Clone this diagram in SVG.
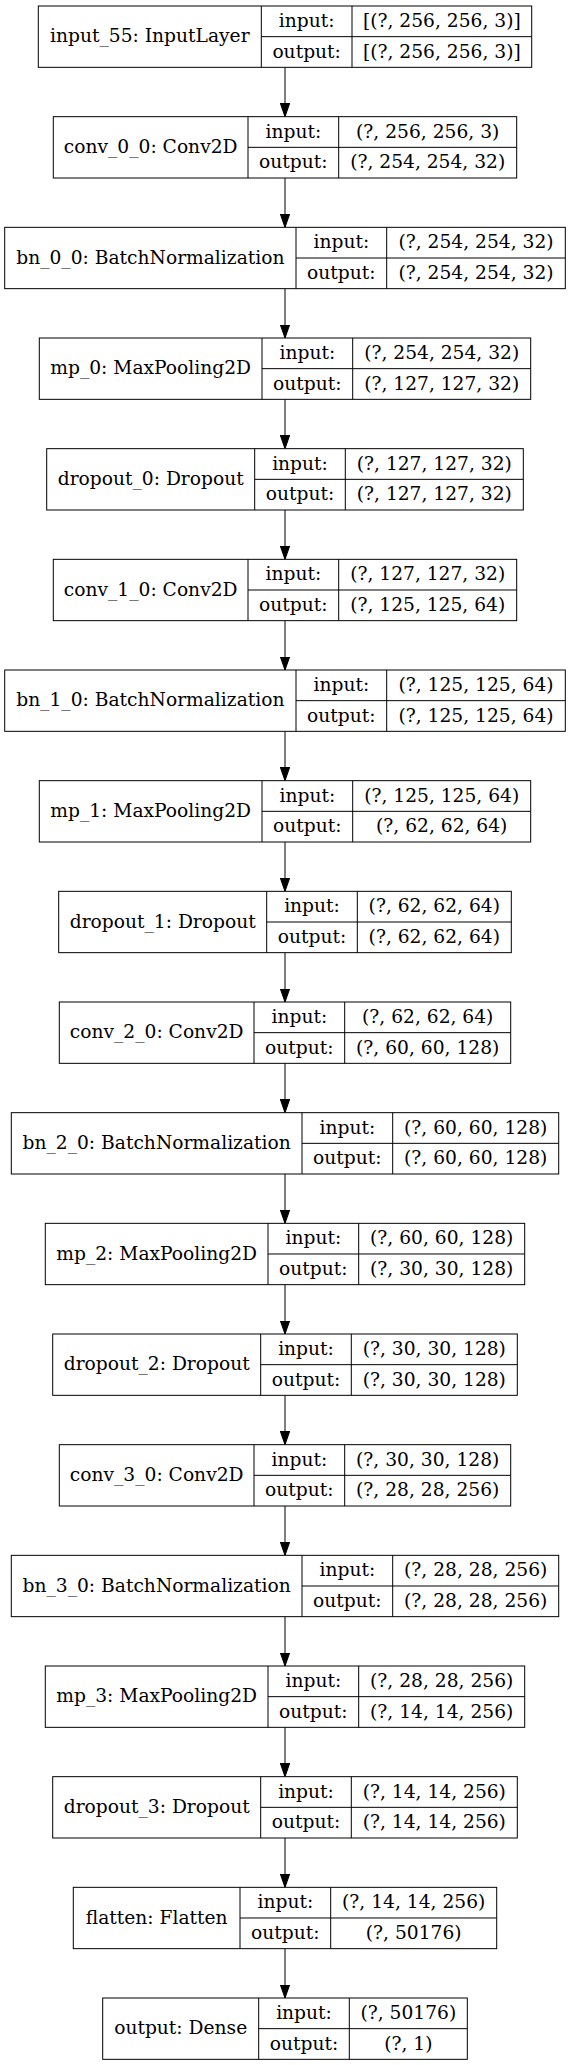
<svg xmlns="http://www.w3.org/2000/svg" width="571" height="2065" viewBox="0 0 571 2065">
<style>
.b{fill:#fff;stroke:#000;stroke-width:1}
.l{stroke:#000;stroke-width:1;fill:none}
text{font-family:"DejaVu Serif","Liberation Serif",serif;font-size:18.67px;fill:#000;text-anchor:middle}
.e{stroke:#000;stroke-width:1;fill:none;marker-end:url(#ah)}
</style>
<defs>
<marker id="ah" viewBox="0 0 10 10" refX="10" refY="5" markerWidth="13.33" markerHeight="9.33" markerUnits="userSpaceOnUse" orient="auto" preserveAspectRatio="none">
<path d="M0,0 L10,5 L0,10 z" fill="#000" stroke="#000" stroke-width="1"/>
</marker>
</defs>
<rect width="571" height="2065" fill="#fff"/>
<g id="edges">
<line class="e" x1="285" y1="67.33" x2="285" y2="116.67"/>
<line class="e" x1="285" y1="178" x2="285" y2="227.33"/>
<line class="e" x1="285" y1="288.67" x2="285" y2="338"/>
<line class="e" x1="285" y1="399.33" x2="285" y2="448.67"/>
<line class="e" x1="285" y1="510" x2="285" y2="559.33"/>
<line class="e" x1="285" y1="620.67" x2="285" y2="670"/>
<line class="e" x1="285" y1="731.33" x2="285" y2="780.67"/>
<line class="e" x1="285" y1="842" x2="285" y2="891.33"/>
<line class="e" x1="285" y1="952.67" x2="285" y2="1002"/>
<line class="e" x1="285" y1="1063.33" x2="285" y2="1112.67"/>
<line class="e" x1="285" y1="1174" x2="285" y2="1223.33"/>
<line class="e" x1="285" y1="1284.67" x2="285" y2="1334"/>
<line class="e" x1="285" y1="1395.33" x2="285" y2="1444.67"/>
<line class="e" x1="285" y1="1506" x2="285" y2="1555.33"/>
<line class="e" x1="285" y1="1616.67" x2="285" y2="1666"/>
<line class="e" x1="285" y1="1727.33" x2="285" y2="1776.67"/>
<line class="e" x1="285" y1="1838" x2="285" y2="1887.33"/>
<line class="e" x1="285" y1="1948.67" x2="285" y2="1998"/>
</g>
<g id="n0" transform="translate(0,6)">
<rect class="b" x="38.3" y="0" width="493.4" height="61.33"/>
<path class="l" d="M261.3,0V61.33M352,0V61.33M261.3,30.67H531.7"/>
<text x="149.8" y="36.4">input_55: InputLayer</text>
<text x="306.65" y="21">input:</text><text x="306.65" y="51.7">output:</text>
<text x="441.85" y="21">[(?, 256, 256, 3)]</text><text x="441.85" y="51.7">[(?, 256, 256, 3)]</text>
</g>
<g id="n1" transform="translate(0,116.67)">
<rect class="b" x="53.3" y="0" width="463.4" height="61.33"/>
<path class="l" d="M248,0V61.33M338.7,0V61.33M248,30.67H516.7"/>
<text x="150.65" y="36.4">conv_0_0: Conv2D</text>
<text x="293.35" y="21">input:</text><text x="293.35" y="51.7">output:</text>
<text x="427.7" y="21">(?, 256, 256, 3)</text><text x="427.7" y="51.7">(?, 254, 254, 32)</text>
</g>
<g id="n2" transform="translate(0,227.33)">
<rect class="b" x="4.7" y="0" width="560.6" height="61.33"/>
<path class="l" d="M296,0V61.33M386.7,0V61.33M296,30.67H565.3"/>
<text x="150.35" y="36.4">bn_0_0: BatchNormalization</text>
<text x="341.35" y="21">input:</text><text x="341.35" y="51.7">output:</text>
<text x="476" y="21">(?, 254, 254, 32)</text><text x="476" y="51.7">(?, 254, 254, 32)</text>
</g>
<g id="n3" transform="translate(0,338)">
<rect class="b" x="39.3" y="0" width="491.4" height="61.33"/>
<path class="l" d="M262,0V61.33M352.7,0V61.33M262,30.67H530.7"/>
<text x="150.65" y="36.4">mp_0: MaxPooling2D</text>
<text x="307.35" y="21">input:</text><text x="307.35" y="51.7">output:</text>
<text x="441.7" y="21">(?, 254, 254, 32)</text><text x="441.7" y="51.7">(?, 127, 127, 32)</text>
</g>
<g id="n4" transform="translate(0,448.67)">
<rect class="b" x="46.7" y="0" width="476.6" height="61.33"/>
<path class="l" d="M254.7,0V61.33M345.3,0V61.33M254.7,30.67H523.3"/>
<text x="150.7" y="36.4">dropout_0: Dropout</text>
<text x="300" y="21">input:</text><text x="300" y="51.7">output:</text>
<text x="434.3" y="21">(?, 127, 127, 32)</text><text x="434.3" y="51.7">(?, 127, 127, 32)</text>
</g>
<g id="n5" transform="translate(0,559.33)">
<rect class="b" x="53.3" y="0" width="463.4" height="61.33"/>
<path class="l" d="M248,0V61.33M338.7,0V61.33M248,30.67H516.7"/>
<text x="150.65" y="36.4">conv_1_0: Conv2D</text>
<text x="293.35" y="21">input:</text><text x="293.35" y="51.7">output:</text>
<text x="427.7" y="21">(?, 127, 127, 32)</text><text x="427.7" y="51.7">(?, 125, 125, 64)</text>
</g>
<g id="n6" transform="translate(0,670)">
<rect class="b" x="4.7" y="0" width="560.6" height="61.33"/>
<path class="l" d="M296,0V61.33M386.7,0V61.33M296,30.67H565.3"/>
<text x="150.35" y="36.4">bn_1_0: BatchNormalization</text>
<text x="341.35" y="21">input:</text><text x="341.35" y="51.7">output:</text>
<text x="476" y="21">(?, 125, 125, 64)</text><text x="476" y="51.7">(?, 125, 125, 64)</text>
</g>
<g id="n7" transform="translate(0,780.67)">
<rect class="b" x="39.3" y="0" width="491.4" height="61.33"/>
<path class="l" d="M262,0V61.33M352.7,0V61.33M262,30.67H530.7"/>
<text x="150.65" y="36.4">mp_1: MaxPooling2D</text>
<text x="307.35" y="21">input:</text><text x="307.35" y="51.7">output:</text>
<text x="441.7" y="21">(?, 125, 125, 64)</text><text x="441.7" y="51.7">(?, 62, 62, 64)</text>
</g>
<g id="n8" transform="translate(0,891.33)">
<rect class="b" x="58.7" y="0" width="452.6" height="61.33"/>
<path class="l" d="M266.7,0V61.33M357.3,0V61.33M266.7,30.67H511.3"/>
<text x="162.7" y="36.4">dropout_1: Dropout</text>
<text x="312" y="21">input:</text><text x="312" y="51.7">output:</text>
<text x="434.3" y="21">(?, 62, 62, 64)</text><text x="434.3" y="51.7">(?, 62, 62, 64)</text>
</g>
<g id="n9" transform="translate(0,1002)">
<rect class="b" x="59.3" y="0" width="451.4" height="61.33"/>
<path class="l" d="M254,0V61.33M344.7,0V61.33M254,30.67H510.7"/>
<text x="156.65" y="36.4">conv_2_0: Conv2D</text>
<text x="299.35" y="21">input:</text><text x="299.35" y="51.7">output:</text>
<text x="427.7" y="21">(?, 62, 62, 64)</text><text x="427.7" y="51.7">(?, 60, 60, 128)</text>
</g>
<g id="n10" transform="translate(0,1112.67)">
<rect class="b" x="11.3" y="0" width="547.4" height="61.33"/>
<path class="l" d="M302,0V61.33M392.7,0V61.33M302,30.67H558.7"/>
<text x="156.65" y="36.4">bn_2_0: BatchNormalization</text>
<text x="347.35" y="21">input:</text><text x="347.35" y="51.7">output:</text>
<text x="475.7" y="21">(?, 60, 60, 128)</text><text x="475.7" y="51.7">(?, 60, 60, 128)</text>
</g>
<g id="n11" transform="translate(0,1223.33)">
<rect class="b" x="45.3" y="0" width="479.4" height="61.33"/>
<path class="l" d="M268,0V61.33M358.7,0V61.33M268,30.67H524.7"/>
<text x="156.65" y="36.4">mp_2: MaxPooling2D</text>
<text x="313.35" y="21">input:</text><text x="313.35" y="51.7">output:</text>
<text x="441.7" y="21">(?, 60, 60, 128)</text><text x="441.7" y="51.7">(?, 30, 30, 128)</text>
</g>
<g id="n12" transform="translate(0,1334)">
<rect class="b" x="52.7" y="0" width="464.6" height="61.33"/>
<path class="l" d="M260.7,0V61.33M351.3,0V61.33M260.7,30.67H517.3"/>
<text x="156.7" y="36.4">dropout_2: Dropout</text>
<text x="306" y="21">input:</text><text x="306" y="51.7">output:</text>
<text x="434.3" y="21">(?, 30, 30, 128)</text><text x="434.3" y="51.7">(?, 30, 30, 128)</text>
</g>
<g id="n13" transform="translate(0,1444.67)">
<rect class="b" x="59.3" y="0" width="451.4" height="61.33"/>
<path class="l" d="M254,0V61.33M344.7,0V61.33M254,30.67H510.7"/>
<text x="156.65" y="36.4">conv_3_0: Conv2D</text>
<text x="299.35" y="21">input:</text><text x="299.35" y="51.7">output:</text>
<text x="427.7" y="21">(?, 30, 30, 128)</text><text x="427.7" y="51.7">(?, 28, 28, 256)</text>
</g>
<g id="n14" transform="translate(0,1555.33)">
<rect class="b" x="11.3" y="0" width="547.4" height="61.33"/>
<path class="l" d="M302,0V61.33M392.7,0V61.33M302,30.67H558.7"/>
<text x="156.65" y="36.4">bn_3_0: BatchNormalization</text>
<text x="347.35" y="21">input:</text><text x="347.35" y="51.7">output:</text>
<text x="475.7" y="21">(?, 28, 28, 256)</text><text x="475.7" y="51.7">(?, 28, 28, 256)</text>
</g>
<g id="n15" transform="translate(0,1666)">
<rect class="b" x="45.3" y="0" width="479.4" height="61.33"/>
<path class="l" d="M268,0V61.33M358.7,0V61.33M268,30.67H524.7"/>
<text x="156.65" y="36.4">mp_3: MaxPooling2D</text>
<text x="313.35" y="21">input:</text><text x="313.35" y="51.7">output:</text>
<text x="441.7" y="21">(?, 28, 28, 256)</text><text x="441.7" y="51.7">(?, 14, 14, 256)</text>
</g>
<g id="n16" transform="translate(0,1776.67)">
<rect class="b" x="52.7" y="0" width="464.6" height="61.33"/>
<path class="l" d="M260.7,0V61.33M351.3,0V61.33M260.7,30.67H517.3"/>
<text x="156.7" y="36.4">dropout_3: Dropout</text>
<text x="306" y="21">input:</text><text x="306" y="51.7">output:</text>
<text x="434.3" y="21">(?, 14, 14, 256)</text><text x="434.3" y="51.7">(?, 14, 14, 256)</text>
</g>
<g id="n17" transform="translate(0,1887.33)">
<rect class="b" x="73.3" y="0" width="423.4" height="61.33"/>
<path class="l" d="M240,0V61.33M330.7,0V61.33M240,30.67H496.7"/>
<text x="156.65" y="36.4">flatten: Flatten</text>
<text x="285.35" y="21">input:</text><text x="285.35" y="51.7">output:</text>
<text x="413.7" y="21">(?, 14, 14, 256)</text><text x="413.7" y="51.7">(?, 50176)</text>
</g>
<g id="n18" transform="translate(0,1998)">
<rect class="b" x="102.7" y="0" width="364.6" height="61.33"/>
<path class="l" d="M258.7,0V61.33M349.3,0V61.33M258.7,30.67H467.3"/>
<text x="180.7" y="36.4">output: Dense</text>
<text x="304" y="21">input:</text><text x="304" y="51.7">output:</text>
<text x="408.3" y="21">(?, 50176)</text><text x="408.3" y="51.7">(?, 1)</text>
</g>
</svg>
